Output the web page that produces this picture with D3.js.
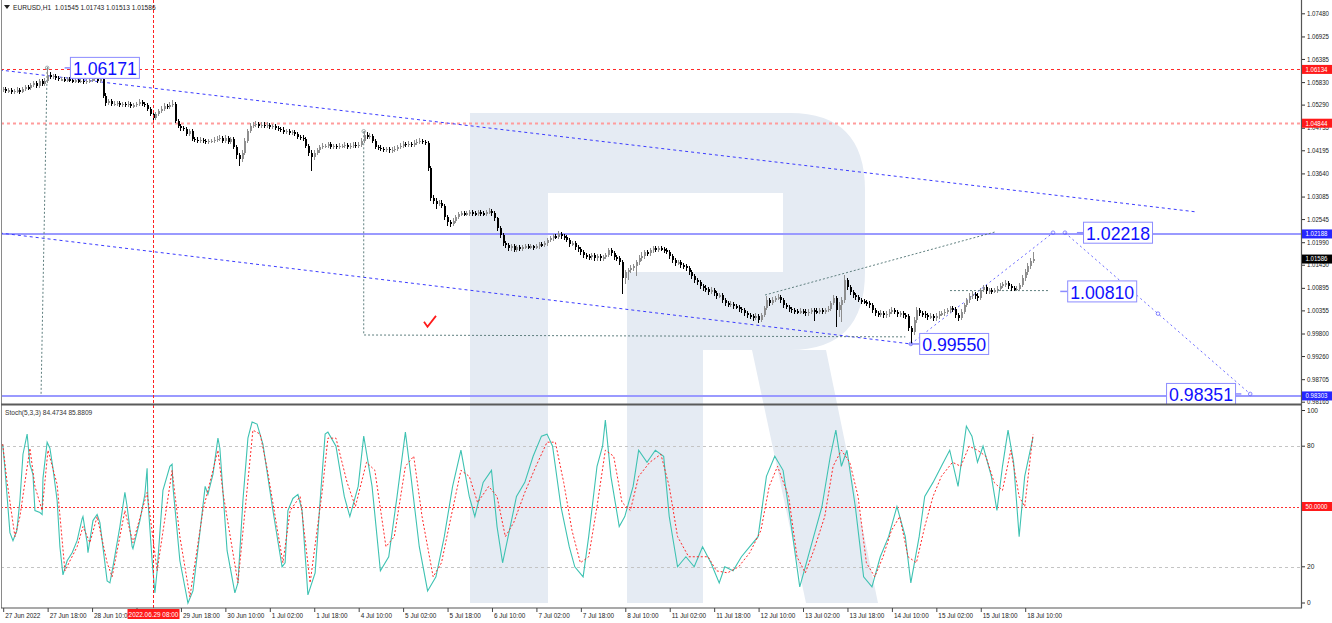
<!DOCTYPE html>
<html><head><meta charset="utf-8">
<script src="https://cdn.jsdelivr.net/npm/d3@7"></script>
<style>
body{margin:0;background:#fff;overflow:hidden}
svg{display:block}
text{font-family:"Liberation Sans",Arial,sans-serif}
</style></head>
<body><svg id="c" width="1332" height="623"></svg>
<script>
// ---------------- DATA ----------------
const symbolTitle = "EURUSD,H1  1.01545 1.01743 1.01513 1.01586";
const stochTitle = "Stoch(5,3,3) 84.4734 85.8809";
const firstOpen = 1.0565;
const closes = [
1.0567,1.0562,1.0564,1.0559,1.0562,1.0564,1.0559,1.0567,1.0571,1.0569,
1.0576,1.0581,1.0574,1.0586,1.0578,1.0586,1.0600,1.0595,1.0598,1.0593,
1.0590,1.0590,1.0588,1.0590,1.0588,1.0586,1.0588,1.0586,1.0586,1.0583,
1.0586,1.0588,1.0590,1.0595,1.0586,1.0590,1.0550,1.0533,1.0538,1.0531,
1.0531,1.0533,1.0528,1.0531,1.0528,1.0531,1.0526,1.0528,1.0531,1.0536,
1.0531,1.0528,1.0519,1.0507,1.0497,1.0507,1.0514,1.0519,1.0526,1.0524,
1.0528,1.0531,1.0490,1.0478,1.0473,1.0471,1.0459,1.0466,1.0447,1.0445,
1.0442,1.0445,1.0442,1.0440,1.0442,1.0442,1.0445,1.0447,1.0450,1.0442,
1.0450,1.0440,1.0447,1.0428,1.0407,1.0399,1.0414,1.0442,1.0466,1.0478,
1.0481,1.0483,1.0478,1.0481,1.0478,1.0481,1.0476,1.0478,1.0473,1.0471,
1.0469,1.0464,1.0466,1.0462,1.0464,1.0459,1.0452,1.0450,1.0447,1.0430,
1.0414,1.0404,1.0414,1.0419,1.0428,1.0430,1.0430,1.0435,1.0428,1.0430,
1.0428,1.0430,1.0430,1.0433,1.0428,1.0430,1.0433,1.0430,1.0433,1.0442,
1.0457,1.0452,1.0454,1.0442,1.0428,1.0426,1.0423,1.0421,1.0423,1.0419,
1.0421,1.0423,1.0428,1.0430,1.0435,1.0433,1.0435,1.0433,1.0438,1.0440,
1.0442,1.0440,1.0438,1.0376,1.0306,1.0299,1.0290,1.0294,1.0287,1.0259,
1.0247,1.0242,1.0251,1.0259,1.0266,1.0268,1.0266,1.0268,1.0271,1.0268,
1.0266,1.0271,1.0268,1.0266,1.0271,1.0273,1.0268,1.0256,1.0232,1.0216,
1.0196,1.0192,1.0184,1.0189,1.0180,1.0187,1.0182,1.0187,1.0189,1.0187,
1.0189,1.0187,1.0189,1.0194,1.0192,1.0196,1.0204,1.0208,1.0213,1.0211,
1.0218,1.0213,1.0211,1.0204,1.0194,1.0196,1.0187,1.0182,1.0175,1.0168,
1.0165,1.0163,1.0168,1.0161,1.0165,1.0161,1.0163,1.0168,1.0180,1.0173,
1.0163,1.0161,1.0151,1.0113,1.0127,1.0132,1.0137,1.0141,1.0151,1.0161,
1.0165,1.0175,1.0173,1.0180,1.0184,1.0180,1.0184,1.0182,1.0180,1.0175,
1.0165,1.0156,1.0149,1.0151,1.0144,1.0141,1.0137,1.0127,1.0118,1.0108,
1.0103,1.0094,1.0089,1.0087,1.0079,1.0084,1.0077,1.0070,1.0072,1.0060,
1.0053,1.0051,1.0051,1.0046,1.0044,1.0039,1.0036,1.0029,1.0024,1.0022,
1.0017,1.0022,1.0012,1.0024,1.0041,1.0060,1.0053,1.0060,1.0065,1.0067,
1.0060,1.0048,1.0044,1.0039,1.0036,1.0034,1.0032,1.0034,1.0032,1.0029,
1.0032,1.0036,1.0034,1.0032,1.0036,1.0034,1.0036,1.0039,1.0053,1.0065,
1.0036,1.0048,1.0060,1.0108,1.0091,1.0079,1.0072,1.0067,1.0060,1.0058,
1.0055,1.0053,1.0048,1.0036,1.0029,1.0027,1.0029,1.0024,1.0027,1.0032,
1.0036,1.0032,1.0027,1.0029,1.0024,1.0022,0.9993,0.9984,1.0012,1.0036,
1.0029,1.0027,1.0024,1.0020,1.0022,1.0017,1.0022,1.0027,1.0029,1.0032,
1.0036,1.0041,1.0039,1.0024,1.0017,1.0032,1.0048,1.0060,1.0070,1.0075,
1.0070,1.0065,1.0084,1.0091,1.0082,1.0084,1.0082,1.0084,1.0087,1.0094,
1.0098,1.0101,1.0094,1.0089,1.0087,1.0087,1.0096,1.0113,1.0127,1.0141,
1.01545,1.01586];
const highs = [
1.0571,1.0570,1.0568,1.0567,1.0566,1.0569,1.0567,1.0571,1.0576,1.0575,
1.0580,1.0585,1.0584,1.0590,1.0589,1.0592,1.0617,1.0605,1.0602,1.0601,
1.0597,1.0594,1.0593,1.0594,1.0593,1.0591,1.0592,1.0591,1.0590,1.0590,
1.0590,1.0593,1.0597,1.0605,1.0600,1.0598,1.0593,1.0555,1.0542,1.0541,
1.0536,1.0537,1.0536,1.0535,1.0534,1.0536,1.0534,1.0532,1.0535,1.0541,
1.0539,1.0534,1.0531,1.0522,1.0510,1.0511,1.0518,1.0524,1.0531,1.0530,
1.0534,1.0538,1.0534,1.0494,1.0482,1.0477,1.0475,1.0470,1.0469,1.0451,
1.0449,1.0449,1.0448,1.0446,1.0446,1.0446,1.0449,1.0452,1.0456,1.0453,
1.0455,1.0453,1.0451,1.0450,1.0431,1.0412,1.0418,1.0447,1.0470,1.0484,
1.0486,1.0488,1.0487,1.0485,1.0485,1.0486,1.0484,1.0482,1.0482,1.0477,
1.0475,1.0473,1.0470,1.0470,1.0468,1.0467,1.0462,1.0456,1.0454,1.0450,
1.0433,1.0418,1.0418,1.0424,1.0432,1.0436,1.0434,1.0439,1.0438,1.0434,
1.0434,1.0435,1.0434,1.0437,1.0436,1.0435,1.0437,1.0437,1.0438,1.0447,
1.0465,1.0462,1.0459,1.0457,1.0445,1.0432,1.0430,1.0427,1.0427,1.0426,
1.0425,1.0428,1.0432,1.0435,1.0440,1.0439,1.0440,1.0439,1.0442,1.0445,
1.0447,1.0446,1.0444,1.0441,1.0380,1.0311,1.0304,1.0300,1.0298,1.0290,
1.0263,1.0252,1.0256,1.0263,1.0270,1.0273,1.0272,1.0273,1.0275,1.0274,
1.0272,1.0275,1.0275,1.0272,1.0276,1.0280,1.0278,1.0272,1.0259,1.0236,
1.0220,1.0201,1.0197,1.0194,1.0193,1.0191,1.0191,1.0191,1.0193,1.0193,
1.0193,1.0192,1.0194,1.0198,1.0198,1.0200,1.0209,1.0213,1.0218,1.0217,
1.0225,1.0222,1.0217,1.0214,1.0207,1.0201,1.0200,1.0191,1.0186,1.0179,
1.0172,1.0169,1.0172,1.0171,1.0170,1.0169,1.0168,1.0173,1.0185,1.0183,
1.0177,1.0167,1.0165,1.0154,1.0132,1.0137,1.0142,1.0146,1.0156,1.0166,
1.0175,1.0180,1.0180,1.0185,1.0189,1.0188,1.0189,1.0188,1.0186,1.0184,
1.0178,1.0169,1.0160,1.0156,1.0155,1.0148,1.0146,1.0140,1.0130,1.0122,
1.0112,1.0107,1.0098,1.0095,1.0091,1.0090,1.0088,1.0081,1.0077,1.0076,
1.0064,1.0057,1.0056,1.0055,1.0050,1.0048,1.0043,1.0040,1.0033,1.0028,
1.0026,1.0027,1.0026,1.0029,1.0046,1.0068,1.0064,1.0066,1.0070,1.0074,
1.0071,1.0063,1.0052,1.0048,1.0043,1.0040,1.0038,1.0039,1.0038,1.0037,
1.0037,1.0041,1.0040,1.0039,1.0041,1.0040,1.0041,1.0044,1.0058,1.0072,
1.0069,1.0055,1.0066,1.0118,1.0112,1.0095,1.0083,1.0076,1.0071,1.0064,
1.0062,1.0059,1.0057,1.0052,1.0040,1.0034,1.0035,1.0033,1.0032,1.0037,
1.0042,1.0040,1.0036,1.0034,1.0033,1.0028,1.0026,0.9998,1.0018,1.0043,
1.0041,1.0034,1.0032,1.0029,1.0027,1.0026,1.0027,1.0032,1.0034,1.0037,
1.0041,1.0046,1.0045,1.0043,1.0029,1.0037,1.0053,1.0065,1.0075,1.0080,
1.0079,1.0075,1.0089,1.0096,1.0095,1.0089,1.0088,1.0089,1.0092,1.0099,
1.0103,1.0107,1.0105,1.0098,1.0093,1.0092,1.0101,1.0118,1.0133,1.0147,
1.0160,1.01743];
const lows = [
1.0561,1.0558,1.0559,1.0555,1.0556,1.0559,1.0556,1.0557,1.0564,1.0565,
1.0566,1.0573,1.0570,1.0571,1.0575,1.0575,1.0583,1.0591,1.0592,1.0590,
1.0587,1.0586,1.0584,1.0585,1.0584,1.0582,1.0583,1.0582,1.0582,1.0579,
1.0580,1.0583,1.0585,1.0587,1.0582,1.0583,1.0545,1.0528,1.0529,1.0527,
1.0527,1.0528,1.0524,1.0525,1.0524,1.0525,1.0522,1.0522,1.0525,1.0528,
1.0527,1.0524,1.0515,1.0502,1.0490,1.0494,1.0503,1.0510,1.0515,1.0520,
1.0520,1.0524,1.0486,1.0473,1.0468,1.0466,1.0455,1.0455,1.0443,1.0441,
1.0438,1.0438,1.0438,1.0436,1.0436,1.0438,1.0438,1.0441,1.0443,1.0438,
1.0438,1.0436,1.0435,1.0423,1.0400,1.0383,1.0393,1.0410,1.0438,1.0462,
1.0474,1.0477,1.0474,1.0474,1.0474,1.0475,1.0472,1.0472,1.0469,1.0467,
1.0464,1.0460,1.0460,1.0458,1.0458,1.0455,1.0448,1.0446,1.0443,1.0426,
1.0408,1.0371,1.0398,1.0409,1.0414,1.0424,1.0425,1.0426,1.0424,1.0424,
1.0424,1.0424,1.0426,1.0426,1.0424,1.0424,1.0426,1.0426,1.0426,1.0429,
1.0438,1.0448,1.0447,1.0438,1.0423,1.0421,1.0419,1.0417,1.0416,1.0415,
1.0415,1.0417,1.0419,1.0424,1.0426,1.0429,1.0429,1.0429,1.0429,1.0434,
1.0436,1.0436,1.0433,1.0370,1.0300,1.0293,1.0280,1.0286,1.0282,1.0254,
1.0240,1.0236,1.0238,1.0247,1.0255,1.0262,1.0262,1.0262,1.0264,1.0264,
1.0262,1.0262,1.0264,1.0262,1.0262,1.0267,1.0264,1.0252,1.0227,1.0210,
1.0190,1.0186,1.0178,1.0180,1.0176,1.0176,1.0178,1.0178,1.0183,1.0183,
1.0183,1.0182,1.0183,1.0185,1.0188,1.0188,1.0192,1.0200,1.0204,1.0207,
1.0207,1.0209,1.0206,1.0200,1.0189,1.0190,1.0182,1.0177,1.0170,1.0163,
1.0160,1.0158,1.0158,1.0156,1.0156,1.0156,1.0156,1.0159,1.0164,1.0168,
1.0158,1.0156,1.0146,1.0077,1.0100,1.0110,1.0126,1.0131,1.0120,1.0146,
1.0156,1.0160,1.0168,1.0168,1.0175,1.0176,1.0176,1.0178,1.0175,1.0171,
1.0160,1.0151,1.0144,1.0145,1.0139,1.0136,1.0132,1.0122,1.0112,1.0102,
1.0097,1.0088,1.0083,1.0080,1.0074,1.0075,1.0072,1.0065,1.0066,1.0055,
1.0048,1.0046,1.0046,1.0041,1.0039,1.0034,1.0031,1.0024,1.0019,1.0017,
1.0012,1.0013,1.0007,1.0009,1.0020,1.0037,1.0048,1.0049,1.0056,1.0061,
1.0055,1.0043,1.0039,1.0034,1.0031,1.0029,1.0027,1.0028,1.0027,1.0024,
1.0024,1.0027,1.0012,1.0027,1.0027,1.0029,1.0029,1.0032,1.0035,1.0049,
0.9996,1.0020,1.0010,1.0055,1.0086,1.0074,1.0067,1.0062,1.0056,1.0053,
1.0051,1.0048,1.0043,1.0031,1.0024,1.0021,1.0022,1.0019,1.0019,1.0022,
1.0027,1.0027,1.0022,1.0022,1.0019,1.0016,0.9987,0.9955,0.9978,1.0007,
1.0024,1.0021,1.0019,1.0014,1.0015,1.0012,1.0012,1.0017,1.0023,1.0024,
1.0027,1.0031,1.0034,1.0019,1.0012,1.0013,1.0028,1.0044,1.0055,1.0065,
1.0065,1.0060,1.0061,1.0080,1.0077,1.0077,1.0077,1.0078,1.0079,1.0083,
1.0090,1.0093,1.0089,1.0084,1.0082,1.0082,1.0083,1.0092,1.0108,1.0122,
1.0137,1.01513];

// Stochastic (5,3,3): [bar, value]
const stochK = [[0,81],[0.8,69],[2.6,37],[3.7,33],[5.1,38],[6.2,53],[7.3,76],[8.8,86],[9.8,71],[10.9,66],[11.6,48],[13.4,47],[14.2,46],[14.5,64],[16,82],[17,79],[18.1,69],[19.6,53],[20.6,30],[21.7,16],[23.2,23],[25,27],[26.8,33],[28.6,44],[28.9,45],[30.4,32],[30.7,27],[32.5,43],[34,46],[35,42],[37.6,13],[38.6,12],[39.7,20],[42.2,40],[44,57],[44.8,50],[46.6,30],[46.9,29],[49.4,43],[51.2,56],[52,69],[52.3,53],[53.8,23],[54.8,7],[55.6,18],[57.7,58],[60.2,70],[61,71],[61.3,60],[63.8,23],[66.7,2],[68.5,8],[71,37],[72.9,60],[73.9,56],[75.7,66],[77.5,84],[78.2,79],[80.8,28],[83.6,7],[84.7,12],[86.5,53],[88.3,84],[89.8,92],[91.6,91],[93.7,81],[97.3,48],[100.6,20],[101.7,22],[102.7,48],[104.5,54],[106.3,56],[107.8,48],[109.9,6],[112.5,17],[114.3,53],[116.1,86],[117.1,87],
[120,80],[123,55],[125,45],[128,60],[130,85],[133,60],[136,18],[139,25],[142,55],[145,87],[147,65],[150,30],[153,8],[156,15],[159,35],[162,60],[165,78],[168,55],[170,45],[173,62],[176,68],[178,40],[180,22],[182,35],[185,55],[188,62],[191,75],[194,85],[196,86],[198,80],[201,50],[204,30],[206,20],[209,15],[211,35],[214,70],[216,80],[217,93],[219,65],[222,40],[224,45],[227,60],[229,78],[232,72],[235,78],[238,75],[240,45],[243,20],[246,25],[249,20],[252,30],[255,22],[258,12],[260,20],[263,18],[266,25],[269,30],[272,35],[275,65],[278,75],[281,68],[284,40],[287,10],[289,20],[292,35],[295,50],[298,75],[300,88],[302,70],[304,78],[307,50],[310,15],[313,10],[316,25],[319,35],[322,50],[325,35],[327,12],[330,35],[332,55],[335,62],[338,70],[341,78],[344,60],[347,90],[349,85],[351,72],[353,80],[356,65],[358,48],[360,70],[362,88],[364,72],[366,35],[368,65],[371,84.47]];
const stochD = [[0,81],[1.5,63],[4.4,35],[6.2,45],[9.8,79],[11.6,60],[14.2,48],[16.3,78],[19.6,61],[22.4,18],[26.8,30],[28.9,40],[31.4,32],[34,45],[37.6,22],[39.4,15],[44,48],[46.9,32],[52,57],[55.6,18],[61,68],[63.8,35],[67.4,5],[72.1,48],[77.5,78],[79.3,57],[84.7,12],[90.1,88],[92.7,86],[95.2,69],[100.9,22],[103.5,48],[107.1,55],[110.7,12],[115,57],[117.1,84],
[120,84],[124,62],[127,50],[131,72],[134,68],[138,30],[141,35],[145,70],[148,75],[151,45],[155,15],[158,22],[161,42],[165,68],[168,65],[171,52],[175,60],[178,55],[181,35],[184,42],[188,57],[192,70],[196,82],[199,82],[202,62],[205,38],[208,22],[211,25],[214,50],[217,78],[220,75],[223,52],[226,48],[229,65],[233,72],[237,76],[240,60],[243,35],[247,25],[251,25],[254,25],[257,18],[261,17],[265,20],[269,27],[273,38],[276,60],[279,70],[283,55],[286,25],[289,17],[292,28],[296,45],[299,70],[302,78],[305,72],[308,55],[311,22],[314,15],[317,25],[320,38],[323,45],[326,25],[329,22],[332,40],[335,55],[338,65],[342,72],[345,70],[348,80],[351,78],[354,75],[357,62],[360,58],[363,78],[366,55],[368,50],[371,85.88]];

const priceTicks = [1.07480,1.06925,1.06385,1.05830,1.05290,1.04735,1.04195,1.03640,1.03085,1.02545,1.01990,1.01450,1.00895,1.00355,0.99800,0.99260,0.98705,0.98165];
const timeLabels = ["27 Jun 2022","27 Jun 18:00","28 Jun 10:00","29 Jun 02:00","29 Jun 18:00","30 Jun 10:00","1 Jul 02:00","1 Jul 18:00","4 Jul 10:00","5 Jul 02:00","5 Jul 18:00","6 Jul 10:00","7 Jul 02:00","7 Jul 18:00","8 Jul 10:00","11 Jul 02:00","11 Jul 18:00","12 Jul 10:00","13 Jul 02:00","13 Jul 18:00","14 Jul 10:00","15 Jul 02:00","15 Jul 18:00","18 Jul 10:00"];
const timeTickBars = timeLabels.map((_, k) => k * 16);
const stochTicks = [100, 80, 20, 0];
const stochLevels = [80, 20];
const stochMid = 50;
const redLevels = [1.06134, 1.04844];
const blueLevels = [1.02188, 0.98303];
const lastPrice = 1.01586;
const markerBar = 54, markerLabel = "2022.06.29 08:00";
// annotations in chart coordinates [bar, price]
const channelUpper = [[-1, 1.0612], [430, 1.02715]];
const channelLower = [[-1, 1.02211], [327, 0.99550]];
const projUp = [[327, 0.99550], [378.2, 1.02218]];
const projDown = [[382.5, 1.02218], [449.2, 0.98351]];
const grayPeak = [[16, 1.06171], [13.8, 0.98303]];
const grayL = [[130, 1.0465], [130, 0.99765], [325, 0.9972]];
const grayRise = [[274.5, 1.00724], [357.3, 1.02235]];
const grayFlat = [[341.1, 1.0083], [376.4, 1.0083]];
const boxLabels = [
  {text:"1.06171", bar:24.2, price:1.06171, from:22.3},
  {text:"1.02218", bar:389.0, price:1.02218, from:386.8},
  {text:"1.00810", bar:383.3, price:1.00810, from:380.8},
  {text:"0.99550", bar:330.0, price:0.99550, from:326.2},
  {text:"0.98351", bar:418.9, price:0.98351, from:null}
];

// ---------------- CHART ----------------
const svg = d3.select("#c");
const PR = 1301; // right edge of plot
const x = d3.scaleLinear().domain([0, 368]).range([2.7, 1024.7]);
const y = d3.scaleLinear().domain([0.98165, 1.07480]).range([401.7, 13.3]);
const yS = d3.scaleLinear().domain([0, 100]).range([607, 406]);

const defs = svg.append("defs");
defs.append("clipPath").attr("id","cm").append("rect").attr("x",1).attr("y",0).attr("width",PR-1).attr("height",403);
defs.append("clipPath").attr("id","cs").append("rect").attr("x",1).attr("y",405.5).attr("width",PR-1).attr("height",202);

// watermark logo
const logo = svg.append("g").attr("fill","#e5ebf3");
logo.append("rect").attr("x",470).attr("y",113).attr("width",78).attr("height",490);
logo.append("path").attr("d","M548,113 H790 Q865,113 865,190 V272 Q865,350 790,350 H627 V272 H783 V193 H548 Z");
logo.append("path").attr("d","M627,350 H703 V603 H627 Z");
logo.append("path").attr("d","M752,350 H826 L878,603 H806 Z");

const gm = svg.append("g").attr("clip-path","url(#cm)");
const gs = svg.append("g").attr("clip-path","url(#cs)");
const lineP = d3.line().x(d=>x(d[0])).y(d=>y(d[1]));

// horizontal levels
gm.selectAll(".rl").data(redLevels).join("line")
  .attr("x1",1).attr("x2",PR).attr("y1",d=>Math.round(y(d))+0.5).attr("y2",d=>Math.round(y(d))+0.5)
  .attr("stroke",(d,i)=>i?"#ff9c9c":"#ff2a2a").attr("stroke-width",(d,i)=>i?2:1).attr("stroke-dasharray","3,3");
gm.selectAll(".bl").data(blueLevels).join("line")
  .attr("x1",1).attr("x2",PR).attr("y1",d=>y(d)).attr("y2",d=>y(d))
  .attr("stroke","#9a9aff").attr("stroke-width",2);

// trend lines
gm.append("path").attr("d",lineP(channelUpper)).attr("fill","none").attr("stroke","#3c3cff").attr("stroke-dasharray","3,3");
gm.append("path").attr("d",lineP(channelLower)).attr("fill","none").attr("stroke","#3c3cff").attr("stroke-dasharray","3,3");
gm.append("path").attr("d",lineP(projUp)).attr("fill","none").attr("stroke","#6a6aff").attr("stroke-dasharray","2,3");
gm.append("path").attr("d",lineP(projDown)).attr("fill","none").attr("stroke","#6a6aff").attr("stroke-dasharray","2,3");
[grayPeak, grayL, grayRise, grayFlat].forEach(seg=>{
  gm.append("path").attr("d",lineP(seg)).attr("fill","none").attr("stroke","#5f7f7f").attr("stroke-dasharray","2,2");
});
// small circle markers
const circ = [[16,1.06171,"#8a9a9a"],[130,1.0465,"#8a9a9a"],[378.2,1.02218,"#6a6aff"],[382.5,1.02218,"#6a6aff"],[416,1.00277,"#6a6aff"],[449.2,0.98351,"#6a6aff"],[327,0.9955,"#6a6aff"]];
gm.selectAll(".mk").data(circ).join("circle").attr("cx",d=>x(d[0])).attr("cy",d=>y(d[1])).attr("r",1.8)
  .attr("fill","none").attr("stroke",d=>d[2]).attr("stroke-width",0.8);

// red vertical marker line
svg.append("line").attr("x1",Math.round(x(markerBar))+0.5).attr("x2",Math.round(x(markerBar))+0.5).attr("y1",0).attr("y2",608)
  .attr("stroke","#ff2020").attr("stroke-dasharray","3,2");

// candles
const bars = closes.map((c,i)=>({i, o: i ? closes[i-1] : firstOpen, h: highs[i], l: lows[i], c}));
const cg = gm.append("g").attr("shape-rendering","crispEdges");
const col = d => d.c >= d.o ? "#8e8e8e" : "#000000";
cg.selectAll(".wk").data(bars).join("line")
  .attr("x1",d=>Math.round(x(d.i))+0.5).attr("x2",d=>Math.round(x(d.i))+0.5)
  .attr("y1",d=>y(d.h)-0.5).attr("y2",d=>y(d.l)+0.5).attr("stroke",col).attr("stroke-width",1);
cg.selectAll(".bd").data(bars).join("rect")
  .attr("x",d=>Math.round(x(d.i))).attr("width",2)
  .attr("y",d=>y(Math.max(d.o,d.c))).attr("height",d=>Math.max(1.5, Math.abs(y(d.o)-y(d.c))))
  .attr("fill",col);

// check mark
const ck = [x(153.5), y(1.0008)];
gm.append("path").attr("d",`M${ck[0]-5},${ck[1]} L${ck[0]-1.5},${ck[1]+5} L${ck[0]+7},${ck[1]-6}`)
  .attr("fill","none").attr("stroke","#ff1a1a").attr("stroke-width",1.8);

// boxed price labels
const bl = svg.append("g");
boxLabels.forEach(b=>{
  const bx = x(b.bar), by = y(b.price);
  if (b.from !== null) bl.append("line").attr("x1",x(b.from)).attr("x2",bx).attr("y1",by).attr("y2",by).attr("stroke","#8c8cff").attr("stroke-width",1.5);
  bl.append("rect").attr("x",bx+0.5).attr("y",by-10.5).attr("width",69).attr("height",21)
    .attr("fill","#fff").attr("stroke","#8c8cff").attr("stroke-width",1);
  bl.append("text").attr("x",bx+3).attr("y",by+7.5).attr("font-size",19).attr("fill","#1010ff")
    .attr("textLength",64).attr("lengthAdjust","spacingAndGlyphs").text(b.text);
});
bl.append("line").attr("x1",x(418.9)+69.5).attr("x2",x(446)).attr("y1",y(0.98351)).attr("y2",y(0.98351)).attr("stroke","#8c8cff").attr("stroke-width",1.5);

// stochastic levels and lines
gs.selectAll(".sl").data(stochLevels).join("line")
  .attr("x1",1).attr("x2",PR).attr("y1",d=>Math.round(yS(d))+0.5).attr("y2",d=>Math.round(yS(d))+0.5)
  .attr("stroke","#c4c4c4").attr("stroke-dasharray","3,3");
gs.append("line").attr("x1",1).attr("x2",PR).attr("y1",Math.round(yS(stochMid))+0.5).attr("y2",Math.round(yS(stochMid))+0.5)
  .attr("stroke","#ff3030").attr("stroke-dasharray","2,2");
const lineS = d3.line().x(d=>x(d[0])).y(d=>yS(d[1]));
gs.append("path").attr("d",lineS(stochK)).attr("fill","none").attr("stroke","#3ec2b2").attr("stroke-width",1.1);
gs.append("path").attr("d",lineS(stochD)).attr("fill","none").attr("stroke","#ff2a2a").attr("stroke-width",1).attr("stroke-dasharray","2,2");

// frame
const fr = svg.append("g").attr("fill","none");
fr.append("line").attr("x1",1.5).attr("x2",1.5).attr("y1",0).attr("y2",608).attr("stroke","#8a8a8a");
fr.append("line").attr("x1",PR+0.5).attr("x2",PR+0.5).attr("y1",0).attr("y2",608).attr("stroke","#555").attr("stroke-width",1.2);
fr.append("line").attr("x1",1).attr("x2",PR+1).attr("y1",404.5).attr("y2",404.5).attr("stroke","#5a5a5a").attr("stroke-width",2);
fr.append("line").attr("x1",1).attr("x2",PR+1).attr("y1",608).attr("y2",608).attr("stroke","#555").attr("stroke-width",1.2);

// price axis
const fs = 6.6;
const ax = svg.append("g").attr("transform",`translate(${PR+1},0)`)
  .call(d3.axisRight(y).tickValues(priceTicks).tickFormat(d=>d.toFixed(5)).tickSize(3).tickPadding(2));
ax.select(".domain").remove();
ax.selectAll("line").attr("stroke","#333");
ax.selectAll("text").attr("font-size",fs).attr("fill","#222").attr("font-family","Liberation Sans, Arial").attr("textLength",22).attr("lengthAdjust","spacingAndGlyphs");

// stoch axis
const axs = svg.append("g").attr("transform",`translate(${PR+1},0)`)
  .call(d3.axisRight(yS).tickValues(stochTicks).tickSize(3).tickPadding(2));
axs.select(".domain").remove();
axs.selectAll("line").attr("stroke","#333");
axs.selectAll(".tick").attr("transform",d=>`translate(0,${Math.min(603,Math.max(410.5,yS(d)))})`);
axs.selectAll("text").attr("font-size",fs).attr("fill","#222").attr("font-family","Liberation Sans, Arial");

// time axis (only the label directly under the highlighted marker is hidden by it, as in the terminal)
const axb = svg.append("g").attr("transform","translate(0,608)")
  .call(d3.axisBottom(x).tickValues(timeTickBars)
    .tickFormat((d,i)=> Math.abs(d - markerBar) < 8 ? "" : timeLabels[i]).tickSize(4).tickPadding(2));
axb.select(".domain").remove();
axb.selectAll("line").attr("stroke","#444").attr("transform","translate(0.5,0)");
axb.selectAll("text").attr("font-size",6.4).attr("fill","#222").attr("text-anchor","start").attr("dx",2).attr("dy","0.55em").attr("font-family","Liberation Sans, Arial");

// highlighted axis labels
const tag = (v, scale, txt, bg) => {
  const yy = scale(v);
  svg.append("rect").attr("x",PR+1).attr("y",yy-4.5).attr("width",31).attr("height",9).attr("fill",bg);
  svg.append("text").attr("x",PR+4.5).attr("y",yy+2.4).attr("font-size",fs).attr("fill","#fff")
    .attr("textLength",txt.length>7?25:22).attr("lengthAdjust","spacingAndGlyphs").text(txt);
};
tag(redLevels[0], y, redLevels[0].toFixed(5), "#ff1a1a");
tag(redLevels[1], y, redLevels[1].toFixed(5), "#ff1a1a");
tag(blueLevels[0], y, blueLevels[0].toFixed(5), "#2626ff");
tag(blueLevels[1], y, blueLevels[1].toFixed(5), "#2626ff");
tag(lastPrice, y, lastPrice.toFixed(5), "#000");
tag(stochMid, yS, stochMid.toFixed(4), "#ff1a1a");

// time marker label
const mx = Math.round(x(markerBar))+0.5;
svg.append("rect").attr("x",mx-26).attr("y",609).attr("width",52).attr("height",10).attr("fill","#ff1a1a");
svg.append("text").attr("x",mx).attr("y",617).attr("text-anchor","middle").attr("font-size",6.4).attr("fill","#fff").text(markerLabel);

// titles
svg.append("path").attr("d","M4,5 L10,5 L7,9 Z").attr("fill","#222");
svg.append("text").attr("x",13).attr("y",9.5).attr("font-size",fs).attr("fill","#222").attr("xml:space","preserve").text(symbolTitle);
svg.append("text").attr("x",5).attr("y",414.5).attr("font-size",fs).attr("fill","#333").text(stochTitle);
</script></body></html>
